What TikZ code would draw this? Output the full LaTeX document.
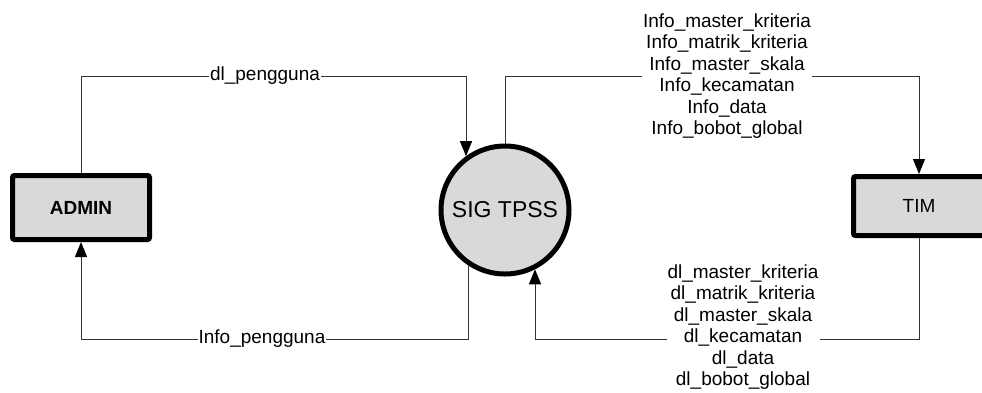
\documentclass[tikz,border=0pt]{standalone}
\usepackage{fontspec}
\setmainfont{Liberation Sans}
\usetikzlibrary{arrows.meta}
\definecolor{boxgray}{HTML}{D9D9D9}
\tikzset{
  entity/.style={draw=black, line width=5pt, fill=boxgray, rounded corners=2pt, inner sep=0pt, font=\fontsize{19}{21}\selectfont},
  proc/.style={circle, draw=black, line width=5pt, fill=boxgray, inner sep=0pt, minimum size=128pt, font=\fontsize{23}{25}\selectfont},
  flow/.style={draw=black!80, line width=1pt},
  arr/.style={flow, -{Triangle[width=12pt,length=15pt,color=black,fill=black]}},
  lbl/.style={fill=white, inner sep=1pt, align=center, font=\fontsize{19}{21.5}\selectfont},
}
\begin{document}
\begin{tikzpicture}[x=1pt,y=-1pt]
\useasboundingbox (0,0) rectangle (982,392);
\node[entity, minimum width=137pt, minimum height=64pt] (admin) at (81,207.5) {\bfseries ADMIN};
\node[proc] (sig) at (505,210) {SIG TPSS};
\node[entity, minimum width=131pt, minimum height=59pt] (tim) at (919,206) {TIM};

\coordinate (tl) at (466,76);
\coordinate (br) at (535,339);
\coordinate (bl) at (468,339);

% ADMIN -> SIG
\draw[arr] (admin.north) |- (tl) -- (tl |- sig.126);
% SIG -> TIM
\draw[arr] (sig.north) -- (sig.north |- tl) -| (tim.north);
% TIM -> SIG
\draw[arr] (tim.south) |- (br) -- (br |- sig.-63);
% SIG -> ADMIN
\draw[arr] (bl |- sig.-124) -- (bl) -| (admin.south);

\node[lbl] (l1) at (265,76) {dl\_pengguna};
\node[lbl] (l2) at (262,339) {Info\_pengguna};
\node[lbl] (l3) at (727,76) {Info\_master\_kriteria\\Info\_matrik\_kriteria\\Info\_master\_skala\\Info\_kecamatan\\Info\_data\\Info\_bobot\_global};
\node[lbl] (l4) at (743,327) {dl\_master\_kriteria\\dl\_matrik\_kriteria\\dl\_master\_skala\\dl\_kecamatan\\dl\_data\\dl\_bobot\_global};
\end{tikzpicture}
\end{document}
